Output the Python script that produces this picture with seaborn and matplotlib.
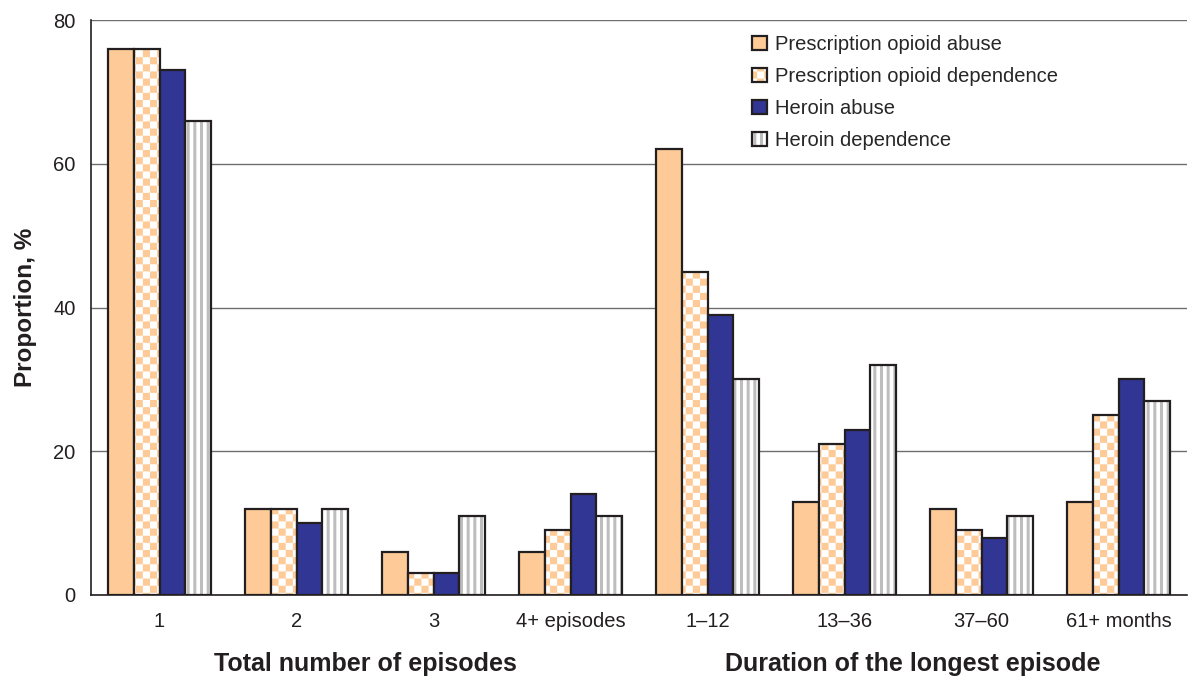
import warnings
import numpy as np
import pandas as pd
import matplotlib
matplotlib.use("Agg")
import matplotlib.pyplot as plt
import matplotlib.hatch as mhatch
from matplotlib.path import Path
from matplotlib.colors import to_rgba
import seaborn as sns

warnings.filterwarnings("ignore")

categories = ["1", "2", "3", "4+ episodes", "1–12", "13–36", "37–60", "61+ months"]
series = ["Prescription opioid abuse", "Prescription opioid dependence",
          "Heroin abuse", "Heroin dependence"]
po_abuse = [76, 12, 6, 6, 62, 13, 12, 13]
po_dep = [76, 12, 3, 9, 45, 21, 9, 25]
her_abuse = [73, 10, 3, 14, 39, 23, 8, 30]
her_dep = [66, 12, 11, 11, 30, 32, 11, 27]
group_titles = ["Total number of episodes", "Duration of the longest episode"]

PEACH = "#FECB98"
NAVY = "#313694"
STRIPE = "#BDBDBD"
EDGE = "#231F20"


# custom hatches: 'c' = checkerboard, 's' = vertical stripes (filled shapes)
class CheckerHatch(mhatch.HatchPatternBase):
    cells = 14

    def __init__(self, hatch, density):
        self.n = (self.cells * self.cells) // 2 if "c" in hatch else 0
        self.num_vertices = self.n * 5

    def set_vertices_and_codes(self, vertices, codes):
        s = 1.0 / self.cells
        sq = np.array([[0, 0], [s, 0], [s, s], [0, s], [0, 0]])
        parts = [sq + [i * s, j * s] for i in range(self.cells)
                 for j in range(self.cells) if (i + j) % 2 == 0]
        vertices[:] = np.concatenate(parts)
        codes[:] = np.tile([Path.MOVETO, Path.LINETO, Path.LINETO,
                            Path.LINETO, Path.CLOSEPOLY], self.n)


class StripeHatch(mhatch.HatchPatternBase):
    lines = 15
    frac = 0.45

    def __init__(self, hatch, density):
        self.n = self.lines if "s" in hatch else 0
        self.num_vertices = self.n * 5

    def set_vertices_and_codes(self, vertices, codes):
        p = 1.0 / self.lines
        w = p * self.frac
        rect = np.array([[0, 0], [w, 0], [w, 1], [0, 1], [0, 0]])
        vertices[:] = np.concatenate([rect + [i * p, 0] for i in range(self.n)])
        codes[:] = np.tile([Path.MOVETO, Path.LINETO, Path.LINETO,
                            Path.LINETO, Path.CLOSEPOLY], self.n)


mhatch._hatch_types.append(CheckerHatch)
mhatch._hatch_types.append(StripeHatch)

df = pd.DataFrame({
    "category": categories * 4,
    "series": np.repeat(series, len(categories)),
    "value": po_abuse + po_dep + her_abuse + her_dep,
})

sns.set_theme(style="white")
plt.rcParams["font.family"] = ["Liberation Sans", "DejaVu Sans"]
plt.rcParams["hatch.linewidth"] = 0.01

fig = plt.figure(figsize=(11.88, 6.77), dpi=100)
ax = fig.add_axes([91 / 1188, 82 / 677, 1096 / 1188, 575 / 677])

sns.barplot(data=df, x="category", y="value", hue="series", order=categories,
            hue_order=series, palette=[PEACH, PEACH, NAVY, "white"],
            width=0.75, gap=0, edgecolor=EDGE, linewidth=1.6, saturation=1,
            legend=False, ax=ax, zorder=3)

for idx, container in enumerate(ax.containers):
    for p in container.patches:
        if idx == 1:
            p.set_facecolor("white")
            p.set_hatch("c")
            p._hatch_color = to_rgba(PEACH)
        elif idx == 3:
            p.set_facecolor("white")
            p.set_hatch("s")
            p._hatch_color = to_rgba(STRIPE)

ax.set_ylim(0, 80)
ax.set_xlim(-0.5, len(categories) - 0.5)
ax.set_yticks([0, 20, 40, 60, 80])
ax.yaxis.grid(True, color="#6e6e6e", linewidth=1.0, zorder=0)
ax.set_axisbelow(True)

ax.set_xticks(np.arange(-0.5, len(categories), 1))
ax.set_xticklabels([])
ax.set_xticks(np.arange(len(categories)), minor=True)
ax.set_xticklabels(categories, minor=True)
ax.tick_params(axis="x", which="major", direction="out", length=7, width=1.2,
               color=EDGE)
ax.tick_params(axis="x", which="minor", length=0, pad=12, labelsize=14.5,
               labelcolor="#231F20")
ax.tick_params(axis="y", direction="out", length=7, width=1.2, color=EDGE,
               pad=4, labelsize=14.5, labelcolor="#231F20")

for s in ["top", "right"]:
    ax.spines[s].set_visible(False)
for s in ["left", "bottom"]:
    ax.spines[s].set_color(EDGE)
    ax.spines[s].set_linewidth(1.2)

ax.set_xlabel("")
ax.set_ylabel("Proportion, %", fontsize=17.5, fontweight="bold", labelpad=12,
              color="#231F20")

ax.legend(ax.containers, series, loc="upper left",
          bbox_to_anchor=(752 / 1188, 1 - 35 / 677),
          bbox_transform=fig.transFigure, frameon=False, fontsize=14.5,
          handlelength=0.72, handleheight=0.72, handletextpad=0.4,
          labelspacing=0.65, borderaxespad=0, borderpad=0)

fig.text(365 / 1188, 1 - 664 / 677, group_titles[0], ha="center", va="center",
         fontsize=18, fontweight="bold", color="#231F20")
fig.text(913 / 1188, 1 - 664 / 677, group_titles[1], ha="center", va="center",
         fontsize=18, fontweight="bold", color="#231F20")

fig.savefig("out.png", dpi=100)
